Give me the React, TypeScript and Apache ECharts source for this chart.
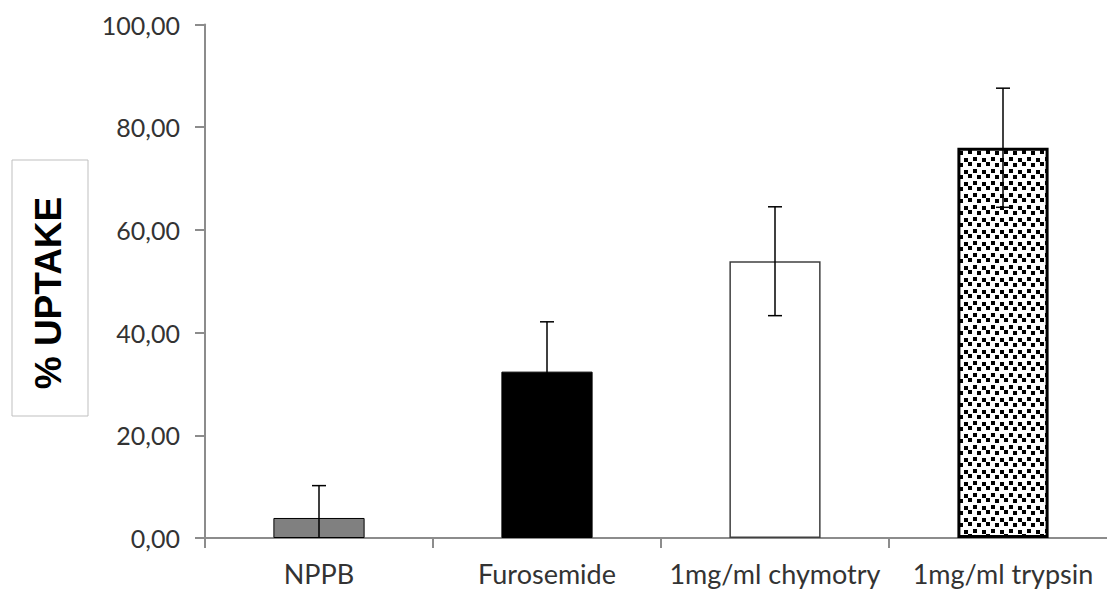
import React, { useEffect, useRef } from "react";
import * as echarts from "echarts";

const categories = ["NPPB", "Furosemide", "1mg/ml chymotry", "1mg/ml trypsin"];
const means = [3.9, 32.4, 53.9, 76.0];
const errors = [6.3, 9.7, 10.6, 11.6];
const yTicks = [0, 20, 40, 60, 80, 100];

function makeTile(): HTMLCanvasElement {
  const c = document.createElement("canvas");
  c.width = 18;
  c.height = 12;
  const ctx = c.getContext("2d")!;
  ctx.fillStyle = "#ffffff";
  ctx.fillRect(0, 0, 18, 12);
  ctx.fillStyle = "#000000";
  const sq = [
    [1, 1], [10, 2], [5, 7], [14, 6],
  ];
  sq.forEach(([x, y]) => ctx.fillRect(x, y, 4, 4));
  return c;
}

export default function App() {
  const ref = useRef<HTMLDivElement>(null);
  useEffect(() => {
    if (!ref.current) return;
    const chart = echarts.init(ref.current, undefined, { renderer: "svg" });
    const tile = makeTile();
    const barStyles = [
      { color: "#808080", borderColor: "#000", borderWidth: 1 },
      { color: "#000000", borderColor: "#000", borderWidth: 1 },
      { color: "#ffffff", borderColor: "#404040", borderWidth: 1.5 },
      { color: { image: tile, repeat: "repeat" }, borderColor: "#000", borderWidth: 3 },
    ];
    const font = "Lato";
    chart.setOption({
      animation: false,
      grid: { left: 205, top: 24.5, width: 912, height: 513.5, containLabel: false },
      xAxis: {
        type: "category",
        data: categories,
        axisLine: { lineStyle: { color: "#8c8c8c", width: 2 } },
        axisTick: { show: true, length: 10, lineStyle: { color: "#8c8c8c", width: 2 } },
        axisLabel: { color: "#333", fontSize: 27, fontFamily: font, margin: 22, interval: 0 },
      },
      yAxis: {
        type: "value",
        min: yTicks[0],
        max: yTicks[yTicks.length - 1],
        interval: 20,
        axisLine: { show: true, lineStyle: { color: "#8c8c8c", width: 2 } },
        axisTick: { show: true, length: 10, lineStyle: { color: "#8c8c8c", width: 2 } },
        splitLine: { show: false },
        axisLabel: {
          color: "#333",
          fontSize: 25,
          fontFamily: font,
          margin: 25,
          formatter: (v: number) => v.toFixed(2).replace(".", ","),
        },
      },
      graphic: [
        {
          type: "rect",
          shape: { x: 12, y: 160, width: 76, height: 256 },
          style: { fill: "#fff", stroke: "#bfbfbf", lineWidth: 1 },
          z: 1,
        },
        {
          type: "text",
          x: 48,
          y: 293,
          rotation: Math.PI / 2,
          style: {
            text: "% UPTAKE",
            font: "bold 37px 'Liberation Sans', Arial, sans-serif",
            fill: "#000",
            align: "center",
            verticalAlign: "middle",
          },
          z: 2,
        },
      ],
      series: [
        {
          type: "bar",
          barWidth: "40%",
          data: means.map((m, i) => ({ value: m, itemStyle: barStyles[i] })),
          z: 2,
        },
        {
          type: "custom",
          z: 5,
          data: means.map((m, i) => [i, m, errors[i]]),
          renderItem: (params: any, api: any) => {
            const x = api.value(0);
            const m = api.value(1);
            const e = api.value(2);
            const hiVal = m + e;
            const loRaw = m - e;
            const loVal = Math.max(0, loRaw);
            const hi = api.coord([x, hiVal]);
            const lo = api.coord([x, loVal]);
            const half = 7;
            const st = { stroke: "#000", lineWidth: 1.5 };
            const children: any[] = [
              { type: "line", shape: { x1: hi[0], y1: hi[1], x2: lo[0], y2: lo[1] }, style: st },
              { type: "line", shape: { x1: hi[0] - half, y1: hi[1], x2: hi[0] + half, y2: hi[1] }, style: st },
            ];
            if (loRaw > 0) {
              children.push({ type: "line", shape: { x1: lo[0] - half, y1: lo[1], x2: lo[0] + half, y2: lo[1] }, style: st });
            }
            return { type: "group", children };
          },
        },
      ],
    });
    return () => chart.dispose();
  }, []);
  return (
    <div
      style={{ position: "absolute", left: 0, top: 0, width: 1107, height: 589, overflow: "hidden", background: "#fff" }}
    >
      <div ref={ref} style={{ width: 1130, height: 589 }} />
    </div>
  );
}
